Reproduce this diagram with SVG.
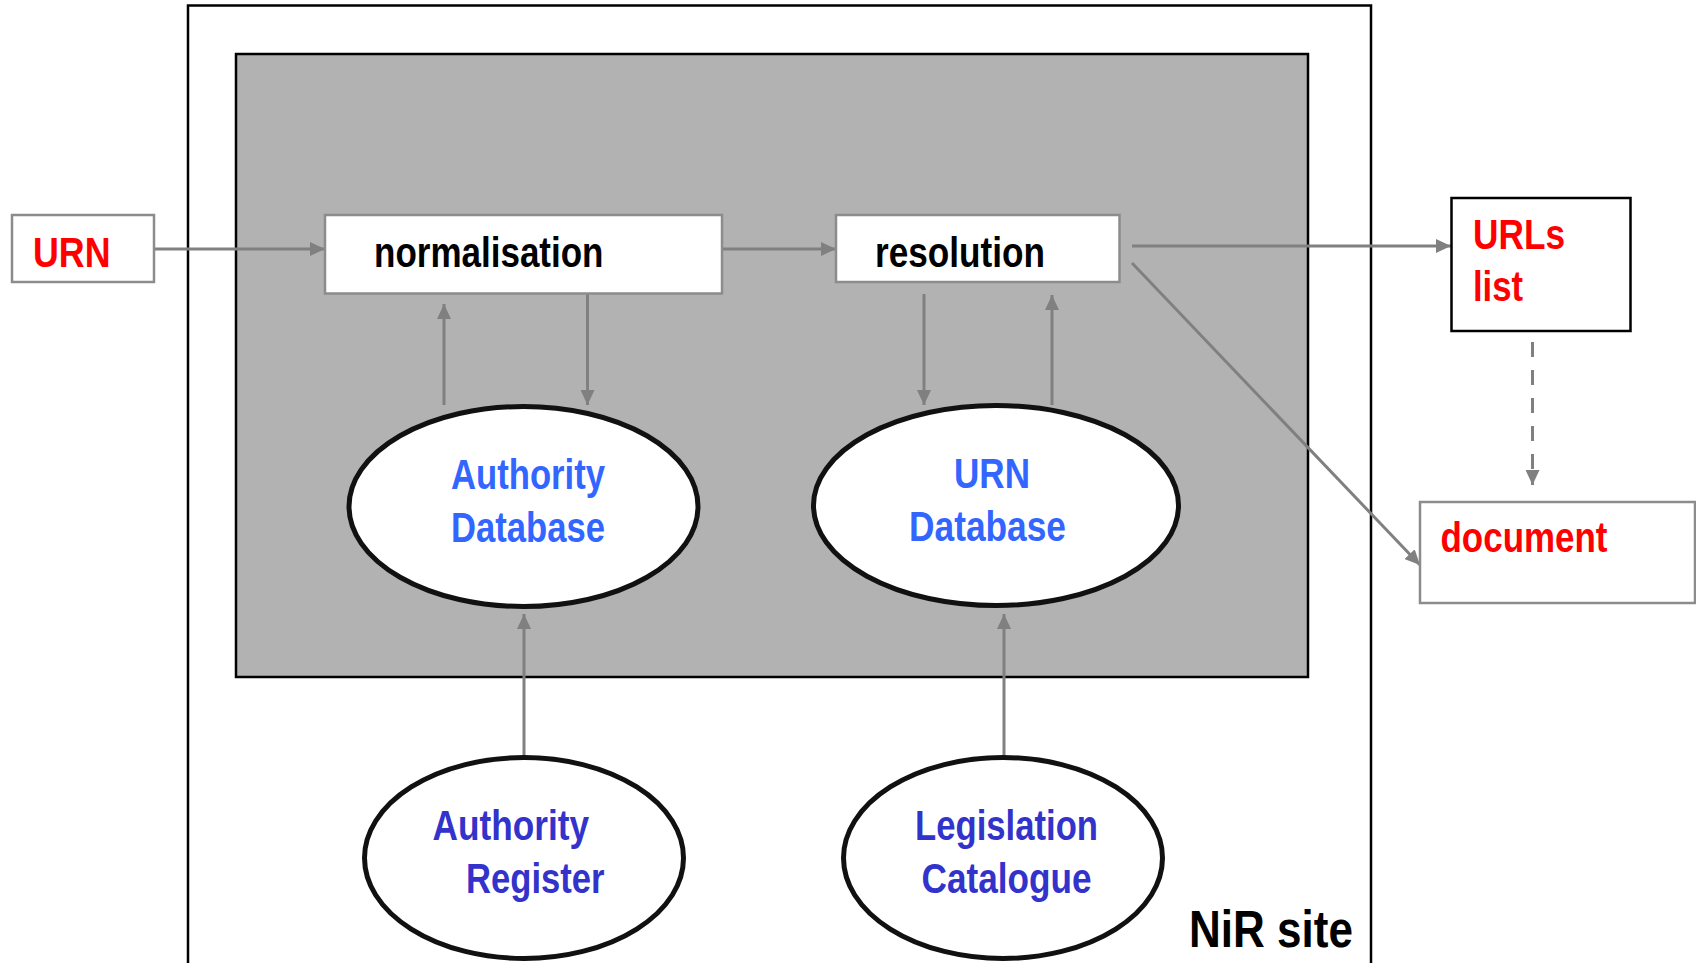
<svg xmlns="http://www.w3.org/2000/svg" width="1696" height="963" viewBox="0 0 1696 963">
<defs>
<marker id="ah" markerUnits="userSpaceOnUse" markerWidth="15" markerHeight="14" refX="15" refY="7" orient="auto" viewBox="0 0 15 14">
<path d="M0,0 L15,7 L0,14 z" fill="#808080"/>
</marker>
</defs>
<style>
.conn{stroke:#808080;stroke-width:3;fill:none;marker-end:url(#ah)}
.box{fill:#fff;stroke:#8c8c8c;stroke-width:2.5}
.ell{fill:#fff;stroke:#111;stroke-width:5}
.t{font-family:"Liberation Sans",Arial,sans-serif;font-weight:bold;font-size:42px}
.red{fill:#ff0000}
.blk{fill:#000}
.blue{fill:#3366ff}
.dblue{fill:#3333cc}
</style>
<rect width="1696" height="963" fill="#fff"/>
<g id="nir-site">
<rect x="188" y="5.5" width="1183" height="980" fill="#fff" stroke="#000" stroke-width="2.5"/>
<text class="t blk" x="1189" y="946.5" font-size="52" style="font-size:52px" textLength="164" lengthAdjust="spacingAndGlyphs">NiR site</text>
</g>
<g id="core">
<rect x="236" y="54" width="1072" height="623" fill="#b2b2b2" stroke="#000" stroke-width="2.5"/>
</g>
<g id="connectors">
<line class="conn" x1="154" y1="249" x2="325" y2="249"/>
<line class="conn" x1="722" y1="249" x2="836" y2="249"/>
<line class="conn" x1="1132" y1="246" x2="1451" y2="246"/>
<line class="conn" x1="1132" y1="263" x2="1420" y2="565"/>
<line class="conn" x1="1532.5" y1="342" x2="1532.5" y2="485" stroke-dasharray="15 13"/>
<line class="conn" x1="444" y1="405" x2="444" y2="304"/>
<line class="conn" x1="587.5" y1="294" x2="587.5" y2="405"/>
<line class="conn" x1="924" y1="294" x2="924" y2="405"/>
<line class="conn" x1="1052" y1="405" x2="1052" y2="295"/>
<line class="conn" x1="524" y1="755" x2="524" y2="614"/>
<line class="conn" x1="1004" y1="755" x2="1004" y2="614"/>
</g>
<g id="urn">
<rect class="box" x="12" y="215" width="142" height="67"/>
<text class="t red" x="33" y="266.5" textLength="77.5" lengthAdjust="spacingAndGlyphs">URN</text>
</g>
<g id="normalisation">
<rect class="box" x="325" y="215" width="397" height="78.5"/>
<text class="t blk" x="374" y="266.5" textLength="229.5" lengthAdjust="spacingAndGlyphs">normalisation</text>
</g>
<g id="resolution">
<rect class="box" x="836" y="215" width="283.5" height="67"/>
<text class="t blk" x="875" y="266.5" textLength="170" lengthAdjust="spacingAndGlyphs">resolution</text>
</g>
<g id="urls-list">
<rect x="1451.5" y="198" width="179" height="133" fill="#fff" stroke="#000" stroke-width="2.5"/>
<text class="t red" x="1473" y="248.5" textLength="92" lengthAdjust="spacingAndGlyphs">URLs</text>
<text class="t red" x="1473" y="301" textLength="50" lengthAdjust="spacingAndGlyphs">list</text>
</g>
<g id="document">
<rect class="box" x="1420" y="502" width="275" height="101"/>
<text class="t red" x="1440.5" y="551.5" textLength="167" lengthAdjust="spacingAndGlyphs">document</text>
</g>
<g id="authority-database">
<ellipse class="ell" cx="523.5" cy="506.5" rx="174.5" ry="100"/>
<text class="t blue" x="451" y="489" textLength="154" lengthAdjust="spacingAndGlyphs">Authority</text>
<text class="t blue" x="451" y="541.5" textLength="154" lengthAdjust="spacingAndGlyphs">Database</text>
</g>
<g id="urn-database">
<ellipse class="ell" cx="996" cy="505.5" rx="182.5" ry="100"/>
<text class="t blue" x="954" y="487.5" textLength="76" lengthAdjust="spacingAndGlyphs">URN</text>
<text class="t blue" x="909" y="541" textLength="157" lengthAdjust="spacingAndGlyphs">Database</text>
</g>
<g id="authority-register">
<ellipse class="ell" cx="524" cy="858" rx="159.5" ry="100.5"/>
<text class="t dblue" x="432.5" y="840" textLength="156.5" lengthAdjust="spacingAndGlyphs">Authority</text>
<text class="t dblue" x="466" y="893" textLength="138.5" lengthAdjust="spacingAndGlyphs">Register</text>
</g>
<g id="legislation-catalogue">
<ellipse class="ell" cx="1003" cy="858" rx="159.5" ry="100.5"/>
<text class="t dblue" x="915" y="840" textLength="183" lengthAdjust="spacingAndGlyphs">Legislation</text>
<text class="t dblue" x="921.5" y="893" textLength="170" lengthAdjust="spacingAndGlyphs">Catalogue</text>
</g>
</svg>
